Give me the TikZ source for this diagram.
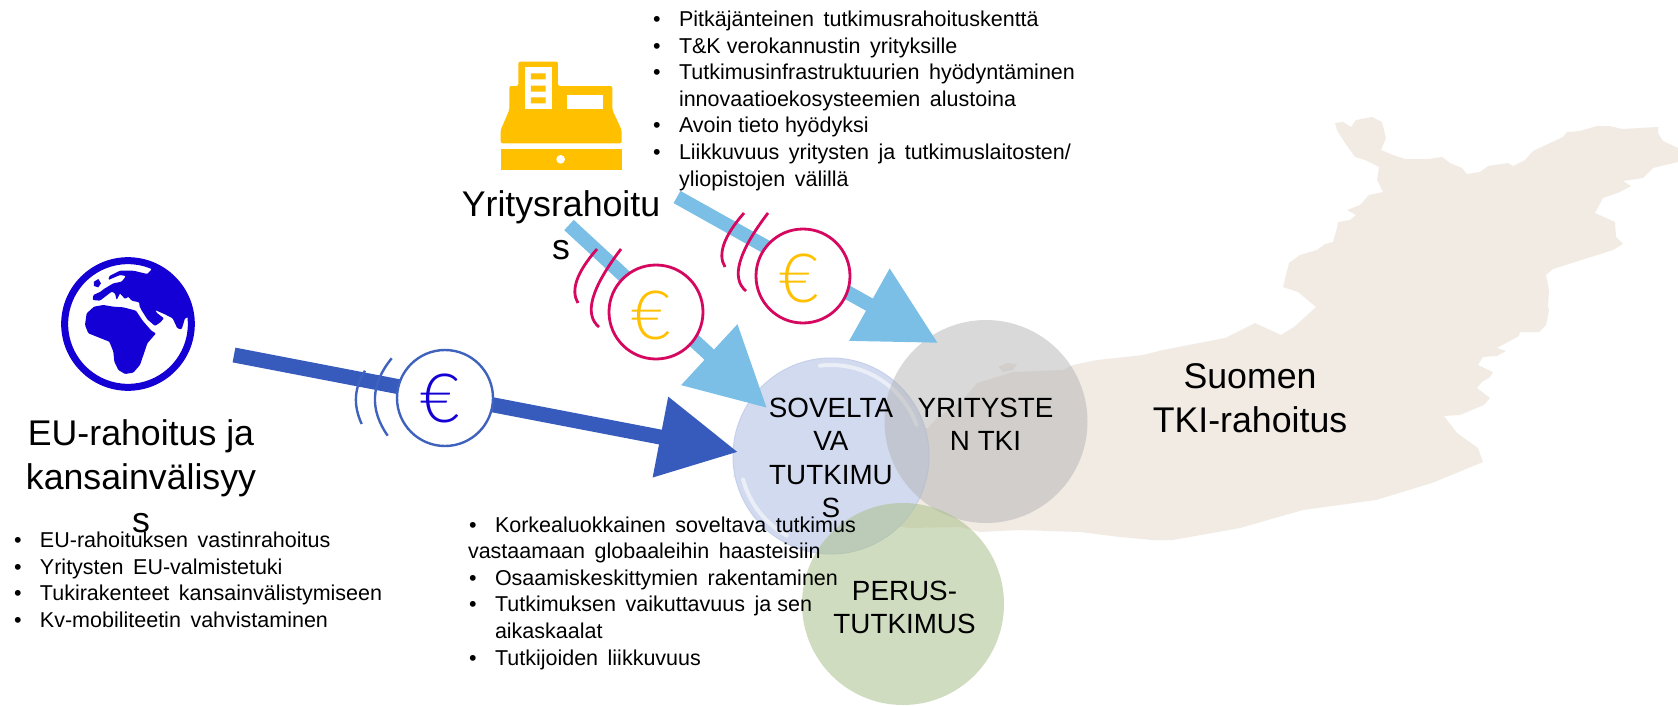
\documentclass[tikz,border=0pt]{standalone}
\usepackage{fontspec}
\usetikzlibrary{arrows.meta}
\setmainfont{Liberation Sans}
\newfontfamily\listfont[WordSpace=1.6]{Liberation Sans}
\newfontfamily\eurofont{Lato Light}
\definecolor{mapc}{HTML}{F1EBE4}
\definecolor{lightarrow}{HTML}{7BBFE7}
\definecolor{darkarrow}{HTML}{375BBD}
\definecolor{pinkc}{HTML}{D6075F}
\definecolor{bluec}{HTML}{3F62BD}
\definecolor{globec}{HTML}{1400D4}
\definecolor{goldc}{HTML}{FFC000}
\definecolor{softc}{HTML}{D2DAEF}
\definecolor{softedge}{HTML}{C6D0EA}
\definecolor{greyc}{HTML}{B3B3B3}
\definecolor{greenc}{HTML}{A9C08A}
\tikzset{
  bigtext/.style={align=center,inner sep=0pt,outer sep=0pt,anchor=north,font=\fontsize{35.7}{43.3}\selectfont},
  circtext/.style={align=center,inner sep=0pt,outer sep=0pt,anchor=north,font=\fontsize{27.8}{33.3}\selectfont},
  listtext/.style={align=left,inner sep=0pt,outer sep=0pt,anchor=north west,font=\fontsize{21.5}{26.6}\selectfont\listfont},
  flowL/.style={draw=lightarrow,line width=14pt,-{Triangle[length=78.6pt,width=79pt]}},
  flowD/.style={draw=darkarrow,line width=15pt,-{Triangle[length=79pt,width=78pt]}},
  coinP/.style={circle,draw=pinkc,fill=white,line width=2.8pt,minimum size=94pt,inner sep=0pt,outer sep=0pt},
  coinB/.style={circle,draw=bluec,fill=white,line width=2.4pt,minimum size=96pt,inner sep=0pt,outer sep=0pt},
  eurosign/.style={inner sep=0pt,outer sep=0pt,font=\fontsize{68}{68}\selectfont\eurofont},
  waveP/.style={draw=pinkc,line width=2.8pt},
  waveB/.style={draw=bluec,line width=2.4pt},
  shine/.style={draw=white,line width=4pt,opacity=.55,line cap=round},
  zoomed/.style={x=0.3333pt,y=-0.3333pt},
}
\newcommand{\bul}{\makebox[26pt][l]{•}}
\begin{document}
\begin{tikzpicture}[x=1pt,y=-1pt]
\useasboundingbox (0,0) rectangle (1678,705);
\clip (0,0) rectangle (1678,705);
% map
\fill[mapc] (733,477)--(745,445)--(850,430)--(928,428)--(937,418)--(963,400)--(977,383)--(997,377)--(1013,372)--(1063,370)--(1073,365)--(1097,360)--(1143,355)--(1163,350)--(1225,338)--(1255,323)--(1281,335)--(1294,327)--(1316,307)--(1298,292)--(1283,287)--(1289,263)--(1300,255)--(1317,250)--(1325,244)--(1333,242)--(1337,228)--(1338,222)--(1350,220)--(1356,215)--(1347,210)--(1360,205)--(1369,195)--(1383,192)--(1377,180)--(1379,167)--(1365,160)--(1355,157)--(1345,143)--(1337,130)--(1335,123)--(1343,122)--(1351,127)--(1356,120)--(1372,117)--(1382,122)--(1386,138)--(1381,150)--(1393,155)--(1405,159)--(1428,159)--(1442,157)--(1450,163)--(1462,168)--(1467,174)--(1480,172)--(1488,166)--(1508,163)--(1513,166)--(1525,160)--(1533,151)--(1563,137)--(1567,132)--(1580,131)--(1597,126)--(1610,126)--(1622,129)--(1658,127)--(1658,133)--(1663,141)--(1678,148)--(1678,162)--(1653,168)--(1643,178)--(1623,181)--(1631,186)--(1620,192)--(1603,198)--(1595,213)--(1615,222)--(1616,237)--(1623,244)--(1613,250)--(1553,269)--(1546,275)--(1549,290)--(1548,307)--(1549,310)--(1546,325)--(1539,332)--(1520,332)--(1519,336)--(1497,348)--(1506,351)--(1497,356)--(1483,357)--(1478,365)--(1493,372)--(1490,377)--(1482,382)--(1477,388)--(1490,398)--(1484,405)--(1460,415)--(1444,416)--(1457,433)--(1478,448)--(1483,462)--(1432,483)--(1376,500)--(1303,510)--(1240,528)--(1173,540)--(1153,540)--(1120,537)--(1080,532)--(1020,530)--(980,532)--(960,527)--(910,528)--(850,520)--cycle;
\fill[mapc] (998,367)--(1007,363)--(1017,364)--(1013,370)--(1003,372)--cycle;
% circles
\node[circle,fill=softc,draw=softedge,line width=1pt,minimum size=196pt,inner sep=0pt,outer sep=0pt] (soft) at (831,456) {};
\draw[shine] ([shift={(263:91)}]soft.center) arc[start angle=263,end angle=340,radius=91];
\draw[shine] ([shift={(119:91)}]soft.center) arc[start angle=119,end angle=165,radius=91];
\node[circle,fill=greyc,fill opacity=.5,minimum size=203pt,inner sep=0pt,outer sep=0pt] (comp) at (986,421.5) {};
\node[circle,fill=greenc,fill opacity=.55,minimum size=202pt,inner sep=0pt,outer sep=0pt] (basic) at (903,604) {};
% connectors
\coordinate (srcE) at (234,355);
\coordinate (tipE) at (738,452);
\coordinate (srcA) at (569,225);
\coordinate (tipA) at (767,408);
\coordinate (srcB) at (677,197);
\coordinate (tipB) at (938,343);
\draw[flowD] (srcE) -- (tipE);
\draw[flowL] (srcA) -- (tipA);
\draw[flowL] (srcB) -- (tipB);
% coins
\draw[waveB] (391.7,358.3) .. controls (370.8,383.7) and (369.4,409.5) .. (387.7,435.7);
\draw[waveB] (365,370.7) .. controls (354.1,387.7) and (353,405.3) .. (361.7,424);
\node[coinB] (coinE) at (445,398) {};
\node[eurosign,text=globec] (euroE) at (440,398) {€};
\draw[waveP] (621,249) .. controls (591,288.3) and (583.7,314.3) .. (599,327);
\draw[waveP] (597,249) .. controls (576.7,272.3) and (570.3,290.3) .. (578,303);
\node[coinP] (coinA) at (656,312) {};
\node[eurosign,text=goldc] (euroA) at (651,315) {€};
\draw[waveP] (768,213) .. controls (738,252.3) and (730.7,278.3) .. (746,291);
\draw[waveP] (744,213) .. controls (723.7,236.3) and (717.3,254.3) .. (725,267);
\node[coinP] (coinB) at (803,276) {};
\node[eurosign,text=goldc] (euroB) at (799,278) {€};
% cash register
\begin{scope}[shift={(430,40)},zoomed]
\fill[goldc,rounded corners=2pt] (265,65)--(384,65)--(384,138)--(547,138)--(547,210)--(575,270)--(575,310)--(212,310)--(212,270)--(238,210)--(238,138)--(265,138)--cycle;
\fill[white] (285,82) rectangle (365,208);
\fill[goldc] (303,100) rectangle (347,118) (303,137) rectangle (347,155) (303,172) rectangle (347,190);
\fill[white] (411,165) rectangle (519,208);
\fill[goldc] (212,327) rectangle (575,390);
\fill[white] (392,358) circle[radius=13];
\end{scope}
% globe
\begin{scope}[shift={(70,250)},zoomed]
\draw[globec,line width=7pt] (174,222) circle[radius=190];
\fill[globec,rounded corners=1pt] (45,225)--(50,190)--(72,170)--(100,165)--(130,170)--(160,172)--(198,182)--(218,212)--(245,243)--(258,250)--(232,280)--(222,310)--(210,345)--(190,368)--(165,372)--(145,360)--(133,335)--(130,305)--(118,275)--(85,262)--(55,250)--cycle;
\fill[globec,rounded corners=1pt] (245,58)--(232,72)--(190,62)--(150,62)--(118,78)--(115,90)--(150,75)--(168,78)--(155,95)--(130,100)--(100,118)--(92,125)--(70,135)--(68,150)--(90,152)--(125,125)--(135,130)--(140,150)--(150,130)--(165,147)--(175,140)--(185,152)--(208,157)--(208,167)--(213,178)--(232,208)--(255,228)--(270,218)--(282,205)--(262,190)--(255,180)--(285,193)--(308,205)--(322,235)--(335,238)--(345,205)--(358,200)--(360,170)--(340,120)--(300,80)--(245,40)--cycle;
\fill[globec] (72,95)--(85,87)--(93,100)--(85,112)--(72,108)--cycle;
\end{scope}
% labels
\node[bigtext] (yrit) at (561,190.5) {Yritysrahoitu\\s};
\node[bigtext] (eu) at (141,420) {EU-rahoitus ja\\kansainvälisyy\\s};
\node[bigtext] (suomen) at (1250,364) {Suomen\\TKI-rahoitus};
\node[circtext] (softlab) at (831,398) {SOVELTA\\VA\\TUTKIMU\\S};
\node[circtext] (complab) at (985.5,398) {YRITYSTE\\N TKI};
\node[circtext] (basiclab) at (904.5,581) {PERUS-\\TUTKIMUS};
% lists
\node[listtext] (listE) at (14,532) {\bul EU-rahoituksen vastinrahoitus\\\bul Yritysten EU-valmistetuki\\\bul Tukirakenteet kansainvälistymiseen\\\bul Kv-mobiliteetin vahvistaminen};
\node[listtext] (listA) at (468,516.5) {\hspace{1pt}\bul Korkealuokkainen soveltava tutkimus\\vastaamaan globaaleihin haasteisiin\\\hspace{1pt}\bul Osaamiskeskittymien rakentaminen\\\hspace{1pt}\bul Tutkimuksen vaikuttavuus ja\hspace{6pt}sen\\\hspace{1pt}\hspace{26pt}aikaskaalat\\\hspace{1pt}\bul Tutkijoiden liikkuvuus};
\node[listtext] (listB) at (653,11) {\bul Pitkäjänteinen tutkimusrahoituskenttä\\\bul T\&K\hspace{6pt}verokannustin yrityksille\\\bul Tutkimusinfrastruktuurien hyödyntäminen\\\hspace{26pt}innovaatioekosysteemien alustoina\\\bul Avoin\hspace{6pt}tieto\hspace{6pt}hyödyksi\\\bul Liikkuvuus yritysten ja tutkimuslaitosten/\\\hspace{26pt}yliopistojen välillä};
\end{tikzpicture}
\end{document}
